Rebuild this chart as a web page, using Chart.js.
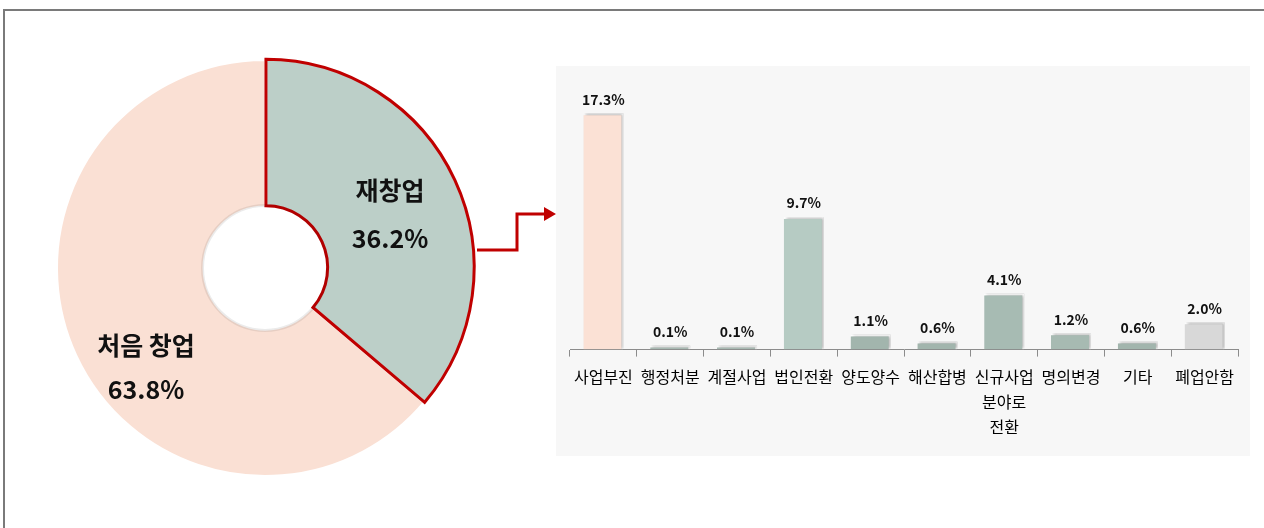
<!DOCTYPE html>
<html>
<head>
<meta charset="utf-8">
<script src="https://cdn.jsdelivr.net/npm/chart.js@4.4.0/dist/chart.umd.min.js"></script>
<style>
  html, body { margin: 0; padding: 0; background: #fff; }
  body { width: 1264px; height: 528px; position: relative; overflow: hidden;
         font-family: "Noto Sans CJK KR", "Noto Sans", sans-serif; }
  #frame { position: absolute; left: 3px; top: 9px; right: 0; bottom: 0;
           border-left: 2px solid #7a7a7a; border-top: 2px solid #7a7a7a; }
  #pieWrap { position: absolute; left: 45px; top: 48px; width: 440px; height: 440px; }
  #barWrap { position: absolute; left: 556px; top: 66px; width: 694px; height: 390px; background: #f7f7f7; }
  .plabel { position: absolute; font-weight: bold; font-size: 25px; color: #111;
            transform: translate(-50%, -50%); white-space: nowrap; }
  #arrow { position: absolute; left: 470px; top: 200px; }
</style>
</head>
<body>
<div id="frame"></div>
<div id="pieWrap"><canvas id="pieChart"></canvas></div>
<div id="barWrap"><canvas id="barChart"></canvas></div>

<div class="plabel" style="left:390px; top:189px;">재창업</div>
<div class="plabel" style="left:390px; top:237px;">36.2%</div>
<div class="plabel" style="left:146px; top:344px;">처음 창업</div>
<div class="plabel" style="left:146px; top:388px;">63.8%</div>

<svg id="arrow" width="90" height="60">
  <polyline points="7,50 47,50 47,14 76,14" fill="none" stroke="#c00000" stroke-width="3"/>
  <polygon points="74,7 86,14 74,21" fill="#c00000"/>
</svg>

<script>
// doughnut: share of first-time vs. re-start
var pieLabels = ['처음 창업', '재창업'];
var pieValues = [63.8, 36.2];
var pieColors = ['#fae0d4', '#bccfc8'];

// bar: breakdown of 재창업 reasons
var barLabels = ['사업부진', '행정처분', '계절사업', '법인전환', '양도양수', '해산합병',
                 ['신규사업', '분야로', '전환'], '명의변경', '기타', '폐업안함'];
var barValues = [17.3, 0.1, 0.1, 9.7, 1.1, 0.6, 4.1, 1.2, 0.6, 2.0];
var barColors = ['#fbe1d5', '#a7b8b1', '#a7b8b1', '#b6cbc3', '#a2b5ad', '#a2b5ad',
                 '#a7bbb3', '#a7bab2', '#a2b5ad', '#d8d8d8'];

var FONT = '"Noto Sans CJK KR", "Noto Sans", sans-serif';

// faint ring round the hole
var holeRing = {
    id: 'holeRing',
    afterDraw: function(chart) {
        var arc = chart.getDatasetMeta(0).data[0];
        var c = chart.ctx;
        c.save();
        c.beginPath();
        c.arc(arc.x, arc.y, arc.innerRadius + 1, 0, Math.PI * 2);
        c.strokeStyle = 'rgba(0,0,0,0.08)';
        c.lineWidth = 3;
        c.stroke();
        c.restore();
    }
};

new Chart(document.getElementById('pieChart'), {
    type: 'doughnut',
    data: {
        labels: pieLabels,
        datasets: [{
            data: pieValues,
            backgroundColor: pieColors,
            borderColor: ['#ffffff', '#c00000'],
            borderWidth: [2, 3],
            borderJoinStyle: 'miter',
            offset: [0, 4]
        }]
    },
    options: {
        responsive: true,
        maintainAspectRatio: false,
        animation: false,
        radius: 208,
        cutout: 64,
        rotation: 360 * pieValues[1] / 100,
        plugins: { legend: { display: false }, tooltip: { enabled: false } }
    },
    plugins: [holeRing]
});

// value labels above bars
var valueLabels = {
    id: 'valueLabels',
    afterDatasetsDraw: function(chart) {
        var c = chart.ctx;
        var meta = chart.getDatasetMeta(0);
        c.save();
        c.font = 'bold 14px ' + FONT;
        c.fillStyle = '#111';
        c.textAlign = 'center';
        c.textBaseline = 'bottom';
        meta.data.forEach(function(bar, i) {
            c.fillText(barValues[i].toFixed(1) + '%', bar.x, bar.y - 7);
        });
        c.restore();
    }
};

// soft shadow behind bars
var barShadow = {
    id: 'barShadow',
    beforeDatasetsDraw: function(chart) {
        var c = chart.ctx;
        c.save();
        c.shadowColor = 'rgba(0,0,0,0.3)';
        c.shadowBlur = 3;
        c.shadowOffsetX = 2;
        c.shadowOffsetY = -1;
    },
    afterDatasetsDraw: function(chart) {
        chart.ctx.restore();
    }
};

new Chart(document.getElementById('barChart'), {
    type: 'bar',
    data: {
        labels: barLabels,
        datasets: [{
            data: barValues,
            backgroundColor: barColors,
            borderColor: '#ffffff',
            borderWidth: { top: 2, right: 2, left: 0, bottom: 0 },
            borderSkipped: 'bottom',
            minBarLength: 4,
            categoryPercentage: 1,
            barPercentage: 0.6
        }]
    },
    options: {
        responsive: true,
        maintainAspectRatio: false,
        animation: false,
        layout: { padding: { left: 14, right: 12, top: 24, bottom: 9 } },
        plugins: { legend: { display: false }, tooltip: { enabled: false } },
        scales: {
            y: { display: false, min: 0, max: 19 },
            x: {
                grid: { display: true, drawOnChartArea: false, drawTicks: true, tickLength: 7, color: '#8c8c8c', offset: true },
                border: { display: true, color: '#8c8c8c', width: 1 },
                ticks: {
                    color: '#000',
                    padding: 8,
                    maxRotation: 0,
                    autoSkip: false,
                    font: { family: FONT, size: 16, lineHeight: 1.55 }
                }
            }
        }
    },
    plugins: [barShadow, valueLabels]
});
</script>
</body>
</html>
